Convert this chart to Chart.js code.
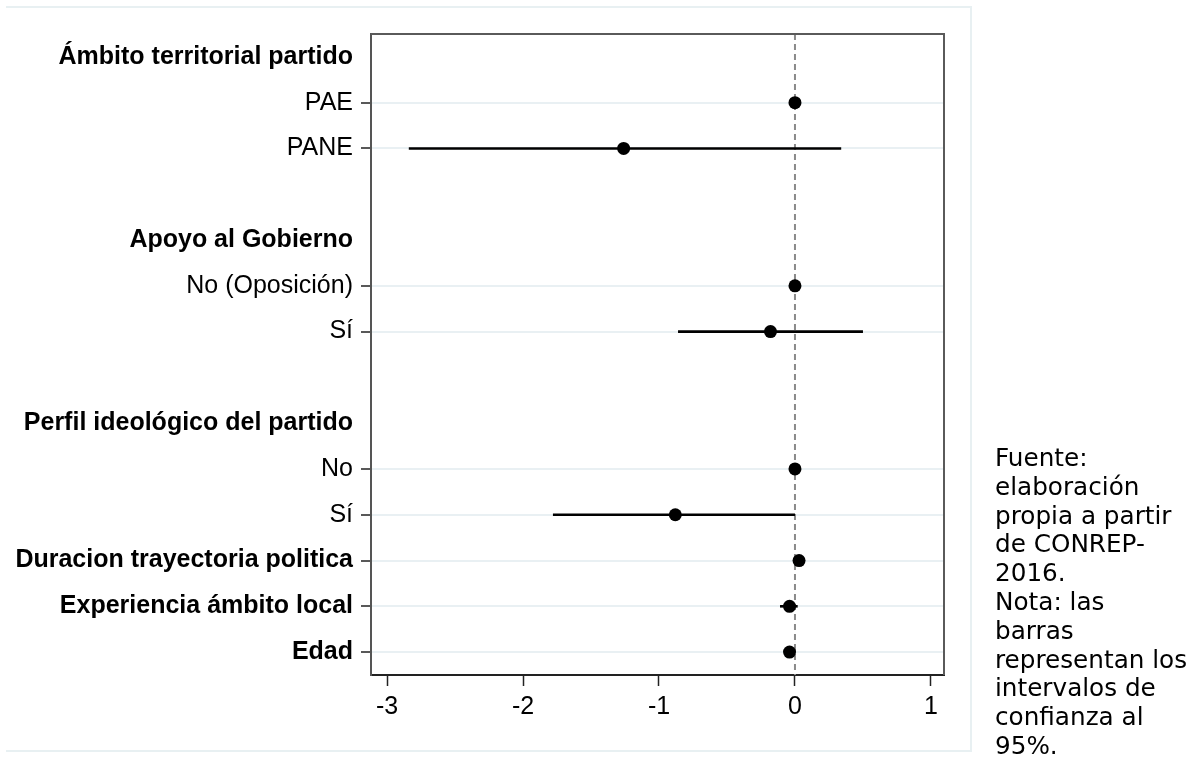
<!DOCTYPE html>
<html>
<head>
<meta charset="utf-8">
<script src="https://cdn.jsdelivr.net/npm/chart.js@4/dist/chart.umd.min.js"></script>
<style>
  html, body { margin: 0; padding: 0; background: #fff; }
  #wrap { position: absolute; left: 0; top: 0; width: 1190px; height: 758px; }
  #frame { position: absolute; left: 6px; top: 6px; width: 964px; height: 742px;
           border-top: 2px solid #e8f0f2; border-right: 2px solid #e8f0f2; border-bottom: 2px solid #e8f0f2; }
  #nota { position: absolute; left: 995px; top: 444px; font-family: "DejaVu Sans", Verdana, sans-serif;
          font-size: 24.7px; line-height: 28.8px; color: #000; white-space: nowrap; }
</style>
</head>
<body>
<div id="frame"></div>
<div id="wrap"><canvas id="myChart"></canvas></div>
<div id="nota"></div>
<script>
// filas del gráfico, de arriba a abajo
const rowLabels = ['Ámbito territorial partido', 'PAE', 'PANE', '', 'Apoyo al Gobierno', 'No (Oposición)', 'Sí', '',
                   'Perfil ideológico del partido', 'No', 'Sí', 'Duracion trayectoria politica',
                   'Experiencia ámbito local', 'Edad'];
const boldRows = [0, 4, 8, 11, 12, 13];
const dataRows = [1, 2, 5, 6, 9, 10, 11, 12, 13];

// coeficientes e intervalos de confianza (mismo orden que dataRows)
const coefs  = [0, -1.26, 0, -0.18, 0, -0.88, 0.03, -0.04, -0.04];
const ciLow  = [0, -2.84, 0, -0.86, 0, -1.78, 0.02, -0.11, -0.05];
const ciHigh = [0,  0.34, 0,  0.50, 0,  0.00, 0.04,  0.02, -0.03];

const xTicks = [-3, -2, -1, 0, 1];

const notaLines = ['Fuente:', 'elaboración', 'propia a partir', 'de CONREP-', '2016.', 'Nota: las',
                   'barras', 'representan los', 'intervalos de', 'confianza al', '95%.'];

document.getElementById('nota').innerHTML = notaLines.join('<br>');

const font = 'Liberation Sans, Arial, sans-serif';

// Datasets: linea de cero, intervalos y puntos
const datasets = [];
dataRows.forEach((row, i) => {
    if (ciLow[i] !== ciHigh[i]) {
        datasets.push({
            type: 'line',
            data: [{ x: ciLow[i], y: row }, { x: ciHigh[i], y: row }],
            borderColor: '#000',
            borderWidth: 2.6,
            pointRadius: 0,
            order: 1
        });
    }
});
datasets.push({
    type: 'scatter',
    data: dataRows.map((row, i) => ({ x: coefs[i], y: row })),
    backgroundColor: '#000',
    borderColor: '#000',
    pointRadius: 6.5,
    borderWidth: 0,
    order: 0
});
datasets.push({
    type: 'line',
    data: [{ x: 0, y: -0.5 }, { x: 0, y: 13.5 }],
    borderColor: '#8a8a8a',
    borderWidth: 2,
    borderDash: [6, 4],
    pointRadius: 0,
    order: 2
});

// marco superior y derecho del area del grafico
const marco = {
    id: 'marco',
    afterDraw(chart) {
        const { ctx, chartArea: a } = chart;
        ctx.save();
        ctx.strokeStyle = '#5a5a5a';
        ctx.lineWidth = 2;
        ctx.beginPath();
        ctx.moveTo(a.left, a.top);
        ctx.lineTo(a.right, a.top);
        ctx.lineTo(a.right, a.bottom);
        ctx.stroke();
        ctx.restore();
    }
};

const ctx = document.getElementById('myChart').getContext('2d');
const myChart = new Chart(ctx, {
    type: 'scatter',
    data: { datasets: datasets },
    plugins: [marco],
    options: {
        responsive: true,
        maintainAspectRatio: false,
        animation: false,
        layout: { padding: { left: 0, top: 34, right: 246, bottom: 33 } },
        plugins: { legend: { display: false }, tooltip: { enabled: false } },
        scales: {
            x: {
                type: 'linear',
                min: -3.118,
                max: 1.096,
                afterBuildTicks: s => { s.ticks = xTicks.map(v => ({ value: v })); },
                afterFit: s => { s.height = 50; },
                grid: { drawOnChartArea: false, drawTicks: true, tickLength: 11, tickColor: '#222', tickWidth: 1.5 },
                border: { color: '#222', width: 2 },
                ticks: { color: '#000', padding: 6, font: { family: font, size: 25 } }
            },
            y: {
                type: 'linear',
                min: -0.5,
                max: 13.5,
                reverse: true,
                afterBuildTicks: s => { s.ticks = rowLabels.map((l, i) => ({ value: i })); },
                afterFit: s => { s.width = 371; },
                grid: {
                    color: c => dataRows.includes(c.index) ? '#e9f0f3' : 'rgba(0,0,0,0)',
                    lineWidth: 2,
                    tickLength: 10,
                    tickColor: c => dataRows.includes(c.index) ? '#222' : 'rgba(0,0,0,0)',
                    tickWidth: 1.5
                },
                border: { color: '#555', width: 2 },
                ticks: {
                    color: '#000',
                    padding: 8,
                    autoSkip: false,
                    callback: v => rowLabels[v],
                    font: c => ({ family: font, size: 25, weight: boldRows.includes(c.index) ? 'bold' : 'normal' })
                }
            }
        }
    }
});
</script>
</body>
</html>
